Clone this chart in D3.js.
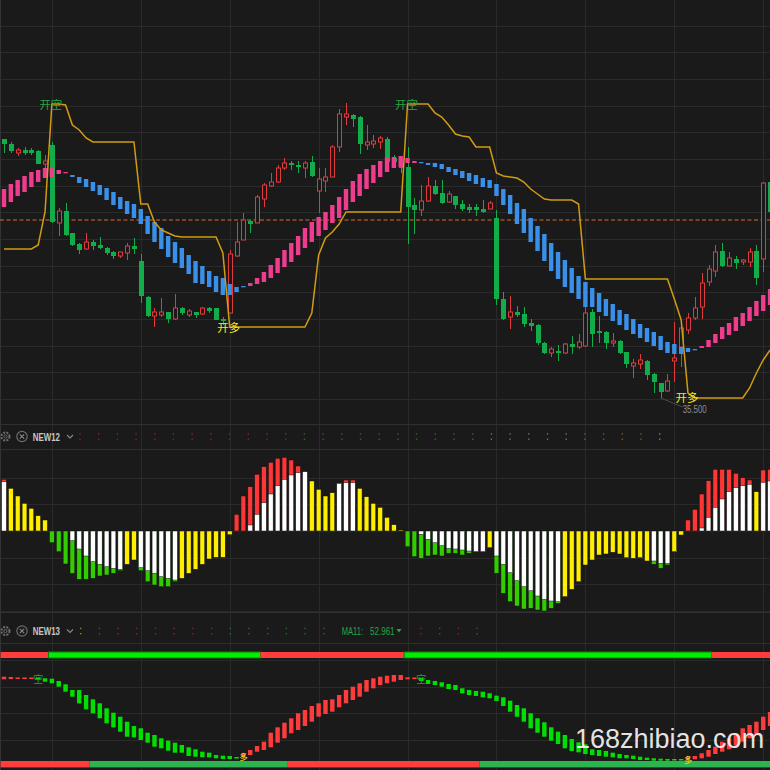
<!DOCTYPE html>
<html><head><meta charset="utf-8">
<script src="https://cdn.jsdelivr.net/npm/d3@7/dist/d3.min.js"></script>
<style>
html,body{margin:0;padding:0;background:#1a1a1a;}
svg{display:block;}
</style></head><body>
<svg id="chart" width="770" height="770"></svg>
<script>
// ---------------- DATA ----------------
const openP = [61.4,60.9,60.0,60.3,60.3,60.2,58.9,60.8,53.0,54.2,
 52.0,50.9,50.4,51.1,50.8,50.5,50.1,49.7,50.0,50.7,
 49.2,45.6,43.7,43.8,44.1,43.4,44.5,43.8,44.1,43.9,
 44.5,44.5,43.4,44.0,49.7,51.3,53.2,53.0,55.4,56.7,
 57.1,58.5,59.0,58.8,58.5,59.1,56.2,57.2,57.6,60.6,
 63.6,63.8,63.6,60.8,60.9,61.1,61.4,59.5,58.9,58.6,
 54.8,54.3,55.2,56.7,56.0,55.1,55.7,54.9,54.6,54.6,
 54.4,54.4,53.5,45.4,43.6,44.1,43.9,43.0,42.8,41.0,
 40.0,40.2,40.0,40.9,40.6,40.7,44.1,42.2,42.1,41.0,
 41.2,40.1,38.7,38.9,39.2,37.9,37.0,36.2,39.2,40.6,
 42.3,43.5,44.6,47.1,48.2,50.2,48.7,49.4,49.1,49.1,
 50.2,49.4,57.1];
const highP = [61.4,61.1,60.5,60.6,60.5,60.3,59.8,61.1,54.5,55.0,
 52.0,51.0,52.0,51.3,51.6,50.6,50.2,50.1,51.0,51.5,
 49.9,45.7,44.5,45.5,44.1,45.9,44.6,44.4,44.1,44.6,
 44.6,44.5,43.6,50.3,53.1,54.0,53.3,55.8,57.0,58.0,
 58.8,59.5,59.2,59.2,59.2,59.7,58.5,58.5,60.8,64.4,
 65.0,63.9,63.7,62.8,61.8,61.7,61.6,59.8,59.7,60.6,
 55.5,56.8,57.6,57.3,57.3,56.2,55.7,55.3,54.9,54.9,
 55.3,55.2,54.3,46.1,45.7,44.7,44.6,43.4,42.9,41.1,
 40.6,40.8,41.0,41.7,41.9,45.0,44.4,43.7,42.2,42.0,
 41.3,40.1,39.4,39.9,39.3,38.0,37.0,37.9,43.1,43.1,
 44.0,45.6,48.0,48.8,50.8,51.0,50.1,49.7,49.4,50.5,
 50.8,57.1,57.3];
const lowP = [60.0,60.0,59.7,59.8,59.8,58.9,58.5,53.0,51.7,51.7,
 50.7,49.9,50.3,50.3,50.4,49.8,49.4,49.5,49.3,49.9,
 45.0,43.6,42.6,43.6,43.0,43.3,43.8,43.6,43.5,43.8,
 44.0,43.3,42.8,44.0,49.6,51.3,52.0,53.0,54.6,56.6,
 57.0,58.3,58.3,58.0,57.5,57.6,54.0,56.1,57.6,60.1,
 62.8,62.6,59.9,60.3,60.5,60.4,59.0,58.8,58.0,50.9,
 51.9,53.7,55.1,55.8,54.9,55.0,54.4,54.2,54.0,53.7,
 54.0,54.4,44.8,43.3,42.4,43.6,42.6,42.2,40.8,39.9,
 39.6,39.2,39.9,39.9,40.4,40.6,40.6,41.0,40.4,40.6,
 39.9,38.5,37.5,38.4,37.3,36.0,35.5,36.1,37.1,38.6,
 41.9,43.3,43.4,46.7,47.6,48.6,48.7,48.4,48.8,48.6,
 46.8,48.1,53.9];
const closeP = [60.9,60.2,60.3,60.0,60.0,58.9,59.2,53.1,54.2,51.8,
 50.8,50.3,51.1,50.7,50.5,50.0,49.7,50.1,50.7,50.4,
 45.7,43.7,44.1,44.1,43.4,44.5,44.0,44.2,43.8,44.5,
 44.2,43.3,43.2,49.9,51.1,53.3,52.9,55.6,56.8,57.1,
 58.5,59.0,58.8,58.6,59.0,57.7,57.4,57.6,60.6,63.9,
 63.9,63.4,60.9,61.1,61.2,61.5,59.1,59.1,58.5,54.6,
 54.3,55.2,56.7,55.9,55.0,55.9,54.8,54.4,54.3,54.3,
 54.1,55.0,45.4,43.4,44.1,43.8,42.9,42.7,41.0,40.0,
 40.4,40.0,40.9,40.6,41.1,44.0,41.9,42.0,41.0,41.2,
 40.0,38.9,39.0,39.3,37.8,37.1,36.1,37.2,39.5,42.5,
 43.5,44.5,47.0,48.4,50.1,48.7,49.5,49.0,49.3,50.1,
 47.5,57.0,54.1];
// fast / slow averages of the ribbon
const fastMA = [56.4,56.9,57.3,57.7,58.1,58.3,58.5,58.5,58.3,58.1,
 57.6,57.0,56.6,56.2,55.8,55.3,54.8,54.4,53.9,53.5,
 52.9,51.9,51.1,50.4,49.6,49.0,48.5,47.9,47.0,46.9,
 46.6,46.1,45.8,45.8,46.1,46.6,47.0,47.5,48.1,48.8,
 49.5,50.3,51.0,51.7,52.5,53.1,53.6,54.1,54.8,55.6,
 56.4,57.2,57.9,58.4,58.8,59.2,59.5,59.6,59.7,59.5,
 59.2,59.0,58.8,58.6,58.4,58.1,57.8,57.5,57.2,56.9,
 56.6,56.5,55.7,54.8,53.9,52.9,52.0,51.1,50.2,49.2,
 48.2,47.4,46.6,46.0,45.4,44.6,44.6,44.1,43.7,43.2,
 42.8,42.3,41.9,41.5,41.1,40.7,40.3,40.0,39.9,39.9,
 40.1,40.3,40.7,41.3,41.9,42.6,43.0,43.6,44.0,44.6,
 45.2,45.8,46.4];
const slowMA = [54.6,55.1,55.7,56.1,56.6,57.1,57.5,57.6,57.9,58.0,
 57.8,57.6,57.4,57.1,56.8,56.5,56.1,55.6,55.2,54.9,
 54.4,53.7,53.1,52.5,51.7,51.1,50.5,49.8,49.2,48.7,
 48.2,47.7,47.5,46.9,46.6,46.7,46.7,46.9,47.1,47.5,
 48.0,48.6,49.1,49.8,50.5,51.1,51.7,52.3,53.0,53.5,
 54.3,55.1,55.7,56.4,57.0,57.6,58.1,58.5,58.6,59.0,
 59.0,59.1,59.0,59.0,58.9,58.6,58.4,58.2,58.0,57.8,
 57.5,57.3,56.9,56.4,55.8,55.0,54.4,53.5,52.7,51.9,
 51.0,50.1,49.3,48.5,47.7,47.1,46.5,46.0,45.4,44.9,
 44.3,43.9,43.4,42.9,42.5,42.1,41.7,41.1,40.9,40.6,
 40.5,40.4,40.5,40.6,41.0,41.4,41.8,42.2,42.7,43.2,
 43.7,44.2,44.8];
// trailing stop line
const stopLine = [50.4,50.4,50.4,50.4,50.4,50.8,54.1,64.9,64.9,64.8,
 62.8,62.3,61.5,61.1,61.1,61.1,61.1,61.1,61.1,61.1,
 54.9,54.9,53.1,52.3,52.0,51.7,51.6,51.6,51.6,51.6,
 51.6,51.6,50.0,42.6,42.6,42.6,42.6,42.6,42.6,42.6,
 42.6,42.6,42.6,42.6,42.6,44.0,49.8,51.5,52.1,52.9,
 54.1,54.1,54.1,54.1,54.1,54.1,54.1,54.1,54.1,64.9,
 64.9,64.9,64.9,64.0,63.6,62.8,61.9,61.7,61.6,60.6,
 60.6,60.6,58.0,57.7,57.6,57.5,57.1,56.4,55.9,55.4,
 55.3,55.3,55.3,55.3,54.9,47.4,47.4,47.4,47.4,47.4,
 47.4,47.4,47.4,47.4,47.4,47.4,47.4,47.4,45.4,43.3,
 36.0,35.5,35.5,35.5,35.5,35.5,35.5,35.5,35.5,36.5,
 38.0,39.3,40.3];
const lastPrice = 53.3;
const lowMark = {i: 96, label: "35.500"};
const signalIdx = [7, 33, 59, 100];
const signalText = ["开空", "开多", "开空", "开多"];
const signalPrice = [64.9, 42.6, 64.9, 35.6];

// NEW12 histogram
const histColor = ["r","y","y","y","y","y","y","g","g","g",
 "g","g","g","g","g","g","g","g","y","y",
 "g","g","g","g","g","g","y","y","y","y",
 "y","y","y","y","r","r","r","r","r","r",
 "r","r","r","r","w","y","y","y","y","w",
 "r","r","y","y","y","y","y","y","y","g",
 "g","g","g","g","g","g","g","g","g","w",
 "w","y","g","g","g","g","g","g","g","g",
 "g","g","y","y","y","y","y","y","y","y",
 "y","y","y","y","y","g","g","g","y","y",
 "r","r","r","r","r","r","r","r","r","r",
 "y","r","r"];
const histValue = [51.7,42.7,35.0,27.7,22.7,15.3,11.0,-11.7,-20.7,-33.0,
 -42.3,-48.3,-48.3,-47.3,-45.0,-44.0,-42.3,-39.7,-33.3,-29.0,
 -39.7,-50.7,-54.0,-55.7,-55.7,-50.7,-47.3,-42.3,-38.3,-33.3,
 -28.0,-26.3,-26.3,-3.7,16.7,35.0,44.3,56.7,64.3,68.7,
 72.7,73.7,71.0,65.0,59.3,50.0,41.7,35.0,38.3,47.7,
 51.0,51.0,42.7,34.3,27.7,23.7,13.7,6.3,1.0,-15.7,
 -25.7,-27.3,-25.0,-24.0,-25.0,-22.3,-22.3,-24.0,-22.3,-20.7,
 -20.7,-16.7,-42.3,-62.3,-70.7,-75.0,-78.0,-77.3,-79.0,-80.0,
 -77.3,-72.3,-65.7,-58.3,-50.7,-34.0,-29.0,-24.0,-23.0,-21.3,
 -23.0,-26.7,-27.3,-26.7,-30.0,-33.3,-37.3,-34.0,-20.7,-4.0,
 11.0,21.7,37.0,50.3,61.7,61.7,61.7,57.7,53.3,51.0,
 39.3,61.0,61.7];
const histWhite = [49.3,0,0,0,0,0,0,0,0,0,
 -9.7,-18.0,-25.0,-30.7,-33.3,-35.7,-37.3,-38.3,0,0,
 -36.7,-39.7,-42.3,-45.7,-47.3,-49.0,0,0,0,0,
 0,0,0,0,0,0,6.0,16.7,28.3,37.0,
 45.3,51.7,56.0,58.3,0,0,0,0,0,0,
 48.3,48.3,0,0,0,0,0,0,0,0,
 0,-3.3,-8.3,-11.7,-14.7,-17.3,-18.0,-19.0,-20.0,0,
 0,0,-25.0,-33.3,-41.7,-49.7,-55.7,-59.7,-65.0,-68.3,
 -70.0,-70.7,0,0,0,0,0,0,0,0,
 0,0,0,0,0,-30.0,-32.3,-32.3,0,0,
 0,0,3.0,13.7,23.7,32.0,39.3,43.3,45.3,46.7,
 0,48.7,50.0];

// NEW13 oscillator sticks
const stickHigh = [85.3,85.0,84.5,84.5,84.5,84.5,83.7,83.3,81.0,77.7,
 72.0,72.0,67.0,62.7,58.7,53.7,49.3,45.3,40.3,36.0,
 33.7,29.3,27.0,23.7,21.3,19.3,17.0,14.7,12.7,10.3,
 9.3,7.0,6.3,6.0,5.0,8.7,12.0,16.0,20.3,29.3,
 34.7,39.3,43.7,48.7,52.0,56.0,58.7,62.0,62.7,67.0,
 72.0,75.3,78.7,82.0,83.7,85.3,86.3,87.0,87.0,84.7,
 84.5,84.0,82.0,81.0,79.7,78.0,77.0,73.7,72.0,71.0,
 70.3,68.7,66.3,64.7,61.3,57.0,53.7,48.7,43.7,39.7,
 34.7,30.3,27.0,23.0,19.7,17.7,12.7,12.0,11.0,9.3,
 8.0,7.0,6.3,5.3,4.3,3.7,3.3,3.0,3.0,3.0,
 5.3,6.0,8.7,12.0,15.3,20.3,23.7,28.7,33.7,37.0,
 40.3,45.3,50.0];
const stickLow = [82.7,83.0,83.0,83.0,83.0,82.5,80.3,78.7,75.3,70.3,
 65.3,58.7,52.7,48.7,43.7,38.7,34.7,30.3,25.3,24.7,
 22.0,19.3,15.3,13.7,11.3,9.3,9.3,6.0,5.3,4.7,
 4.7,3.7,3.0,3.0,3.5,5.3,7.0,10.3,12.0,14.7,
 19.3,23.7,28.7,32.0,36.0,40.3,45.3,48.0,50.3,54.7,
 58.7,62.0,65.3,70.3,73.7,77.0,78.7,80.3,82.0,82.7,
 83.0,81.0,78.0,77.0,75.3,73.0,72.0,68.7,67.0,66.0,
 64.7,63.7,61.0,56.0,50.3,45.3,40.3,33.7,29.3,25.3,
 21.3,18.0,13.7,11.0,9.7,8.0,7.0,6.0,5.3,4.7,
 3.7,3.7,3.0,2.0,2.0,1.3,1.3,1.3,1.5,1.5,
 2.7,2.7,3.7,5.3,8.0,10.3,12.7,16.3,20.3,23.7,
 27.0,32.0,36.0];
const stickRuns = [[0,4,"r"],[5,34,"g"],[35,60,"r"],[61,99,"g"],[100,112,"r"]];
const topStripRuns = [[0,6,"r"],[7,37,"g"],[38,58,"r"],[59,103,"g"],[104,112,"r"]];
const bottomStripRuns = [[0,12,"r"],[13,41,"g"],[42,69,"r"],[70,112,"g"]];
const topStripLevel = [104, 110];
const bottomStripLevel = [-5.3, 1];
const subSignalIdx = [5, 35, 61, 100];
const subSignalText = ["空", "多", "空", "多"];
const subSignalValue = [83.5, 6, 83.5, 3];
const ma11Value = "52.961";

// header placeholder value markers
const new12Marks = ["#8a2424","#8a2424","#8a2424","#8a2424","#8a2424","#8a2424","#8a2424","#8a2424","#8a2424","#8a2424","#8a2424","#8a2424",
 "#226e22","#226e22","#226e22","#226e22","#226e22","#226e22","#226e22","#226e22","#226e22","#226e22",
 "#70737c","#70737c","#70737c","#70737c","#70737c","#8a5020","#8a5020","#8a5020","#8a5020","#8f8a20"];
const new13MarksA = ["#8f8a20","#226e22","#8a2424","#8a2424","#8a2424","#8a2424","#8a2424","#8a2424",
 "#226e22","#226e22","#226e22","#226e22","#226e22","#226e22"];
const new13MarksB = ["#8a2424","#226e22","#8a2424","#226e22"];

// ---------------- DRAW ----------------
const N = closeP.length;
const svg = d3.select("#chart");
const BG = "#1a1a1a", GRID = "#2a2a2a";
const RED = "#e03a3c", GREEN = "#12ad4a", PINK = "#ee3d8e", BLUE = "#3a8fe9";

svg.append("rect").attr("width", 770).attr("height", 770).attr("fill", BG);

const x = d3.scaleBand().domain(d3.range(N)).range([0.58, 0.58 + 6.84 * N]);
const cx = i => x(i) + x.bandwidth() / 2;
const yP = d3.scaleLinear().domain([35.5, 65.5]).range([398, 98]);
const yH = d3.scaleLinear().domain([-100, 100]).range([631, 431]);
const yS = d3.scaleLinear().domain([0, 100]).range([762, 662]);

const defs = svg.append("defs");
function clip(id, y0, y1) {
  defs.append("clipPath").attr("id", id).append("rect")
    .attr("x", 0).attr("y", y0).attr("width", 770).attr("height", y1 - y0);
}
clip("cTop", 0, 424); clip("cMid", 449, 612); clip("cBot", 643, 770);

// condensed UI text helper (narrow UI font look)
function condText(g, tx, ty, str, size, sx, fill, bold) {
  return g.append("text")
    .attr("transform", `translate(${tx},${ty}) scale(${sx},1)`)
    .attr("font-family", "Liberation Sans").attr("font-size", size)
    .attr("font-weight", bold ? "bold" : "normal")
    .attr("fill", fill).text(str);
}

// grid
const grid = svg.append("g").attr("stroke", GRID).attr("stroke-width", 1);
d3.range(15).forEach(k => {
  const yy = Math.round(25.5 + 26.67 * k) + 0.5;
  grid.append("line").attr("x1", 0).attr("x2", 770).attr("y1", yy).attr("y2", yy);
});
d3.range(-2, 4).forEach(k => {
  const yy = Math.round(531 + 26.67 * k) + 0.5;
  grid.append("line").attr("x1", 0).attr("x2", 770).attr("y1", yy).attr("y2", yy);
});
d3.range(-1, 4).forEach(k => {
  const yy = Math.round(686.7 + 26.67 * k) + 0.5;
  grid.append("line").attr("x1", 0).attr("x2", 770).attr("y1", yy).attr("y2", yy);
});
d3.range(7, N, 13).forEach(i => {
  const xx = Math.round(cx(i)) + 0.5;
  grid.append("line").attr("x1", xx).attr("x2", xx).attr("y1", 0).attr("y2", 770);
});
[424, 449, 612, 643].forEach(yy => {
  svg.append("line").attr("x1", 0).attr("x2", 770).attr("y1", yy + 0.5).attr("y2", yy + 0.5)
    .attr("stroke", "#303030");
});
svg.append("line").attr("x1", 0.5).attr("x2", 0.5).attr("y1", 0).attr("y2", 770).attr("stroke", "#333");

// ---- top panel ----
const gTop = svg.append("g").attr("clip-path", "url(#cTop)");
gTop.append("line").attr("x1", 0).attr("x2", 770)
  .attr("y1", yP(lastPrice)).attr("y2", yP(lastPrice))
  .attr("stroke", "#e0682a").attr("stroke-width", 1.2).attr("stroke-dasharray", "4,2.5");

d3.range(N).forEach(i => {
  const up = closeP[i] >= openP[i];
  const col = up ? RED : GREEN;
  const xc = Math.round(cx(i)) + 0.5;
  const yT = yP(Math.max(openP[i], closeP[i]));
  const yB = yP(Math.min(openP[i], closeP[i]));
  gTop.append("line").attr("x1", xc).attr("x2", xc).attr("y1", yP(highP[i])).attr("y2", yT)
    .attr("stroke", col).attr("stroke-width", 1);
  gTop.append("line").attr("x1", xc).attr("x2", xc).attr("y1", yB).attr("y2", yP(lowP[i]))
    .attr("stroke", col).attr("stroke-width", 1);
  if (up) {
    gTop.append("rect").attr("x", xc - 2).attr("y", yT).attr("width", 4)
      .attr("height", Math.max(yB - yT, 1)).attr("fill", BG).attr("stroke", col).attr("stroke-width", 1);
  } else {
    gTop.append("rect").attr("x", xc - 2.5).attr("y", yT).attr("width", 5)
      .attr("height", Math.max(yB - yT, 1.5)).attr("fill", col);
  }
});

d3.range(N).forEach(i => {
  const hi = Math.max(fastMA[i], slowMA[i]), lo = Math.min(fastMA[i], slowMA[i]);
  gTop.append("rect").attr("x", cx(i) - 2.2).attr("width", 4.4)
    .attr("y", yP(hi)).attr("height", Math.max(yP(lo) - yP(hi), 1.3))
    .attr("fill", fastMA[i] > slowMA[i] ? PINK : BLUE);
});

gTop.append("path").datum(d3.range(N))
  .attr("d", d3.line().x(i => cx(i)).y(i => yP(stopLine[i])))
  .attr("fill", "none").attr("stroke", "#d29c12").attr("stroke-width", 1.5);

signalIdx.forEach((si, k) => {
  const isShort = signalText[k] === "开空";
  gTop.append("text").attr("x", cx(si) - 1).attr("y", yP(signalPrice[k]))
    .attr("text-anchor", "middle").attr("dominant-baseline", "central")
    .attr("font-family", "Noto Sans CJK SC").attr("font-size", 11.5)
    .attr("fill", isShort ? "#27a545" : "#f6e81e").text(signalText[k]);
});

// low marker
const lx = cx(lowMark.i), ly = yP(lowP[lowMark.i]);
gTop.append("line").attr("x1", lx).attr("y1", ly).attr("x2", lx + 22).attr("y2", ly + 9)
  .attr("stroke", "#4a4a4a").attr("stroke-width", 1);
condText(gTop, lx + 22, ly + 15, lowMark.label, 10.5, 0.75, "#8e8e8e", false);

// ---- headers ----
function header(cy, name) {
  const g = svg.append("g");
  g.append("circle").attr("cx", 5.5).attr("cy", cy).attr("r", 4).attr("fill", "none")
    .attr("stroke", "#6c6c6c").attr("stroke-width", 2).attr("stroke-dasharray", "2,1.2");
  g.append("circle").attr("cx", 5.5).attr("cy", cy).attr("r", 1.6).attr("fill", "none")
    .attr("stroke", "#6c6c6c").attr("stroke-width", 1);
  g.append("circle").attr("cx", 22).attr("cy", cy).attr("r", 5.2).attr("fill", "none")
    .attr("stroke", "#6c6c6c").attr("stroke-width", 1.2);
  g.append("path").attr("d", `M19.8,${cy - 2.2}L24.2,${cy + 2.2}M24.2,${cy - 2.2}L19.8,${cy + 2.2}`)
    .attr("stroke", "#8a8a8a").attr("stroke-width", 1.1);
  condText(g, 32.7, cy + 4, name, 11, 0.72, "#c6c6c6", true);
  g.append("path").attr("d", `M67,${cy - 1.5}L70,${cy + 1.5}L73,${cy - 1.5}`)
    .attr("fill", "none").attr("stroke", "#8a8a8a").attr("stroke-width", 1.1);
  return g;
}
function marks(g, x0, colors, cy) {
  colors.forEach((c, k) => {
    const xx = x0 + 18.7 * k;
    g.append("rect").attr("x", xx - 0.7).attr("y", cy - 3.3).attr("width", 1.4).attr("height", 1.4).attr("fill", c);
    g.append("rect").attr("x", xx - 0.7).attr("y", cy + 2).attr("width", 1.4).attr("height", 1.4).attr("fill", c);
  });
}
const h12 = header(436.5, "NEW12");
marks(h12, 80, new12Marks, 436.5);
const h13 = header(631, "NEW13");
marks(h13, 80.7, new13MarksA, 631);
condText(h13, 341.7, 635, "MA11:", 11.5, 0.66, "#22a74b", false);
condText(h13, 370, 635, ma11Value, 11.5, 0.70, "#22a74b", false);
h13.append("path").attr("d", "M396.5,629L401.5,629L399,632.5Z").attr("fill", "#22a74b");
marks(h13, 421, new13MarksB, 631);

// ---- middle panel ----
const gMid = svg.append("g").attr("clip-path", "url(#cMid)");
const HC = {y: "#ffee00", r: "#ff3636", g: "#33cc00", w: "#ffffff"};
d3.range(N).forEach(i => {
  const a = histValue[i], w = histWhite[i];
  const y0 = yH(0);
  gMid.append("rect").attr("x", cx(i) - 2.4).attr("width", 4.8)
    .attr("y", Math.min(yH(a), y0)).attr("height", Math.abs(yH(a) - y0))
    .attr("fill", HC[histColor[i]]).attr("stroke", "#111").attr("stroke-width", 0.5);
  if (w !== 0) {
    gMid.append("rect").attr("x", cx(i) - 2.4).attr("width", 4.8)
      .attr("y", Math.min(yH(w), y0)).attr("height", Math.abs(yH(w) - y0))
      .attr("fill", "#ffffff").attr("stroke", "#111").attr("stroke-width", 0.5);
  }
});

// ---- bottom panel ----
const gBot = svg.append("g").attr("clip-path", "url(#cBot)");
function strip(runs, level, colors, strokeG) {
  runs.forEach(([s, e, c]) => {
    gBot.append("rect").attr("x", x(s)).attr("width", x(e) + x.bandwidth() - x(s))
      .attr("y", yS(level[1])).attr("height", yS(level[0]) - yS(level[1]))
      .attr("fill", colors[c])
      .attr("stroke", c === "g" && strokeG ? strokeG : "none").attr("stroke-width", 1);
  });
}
strip(topStripRuns, topStripLevel, {r: "#ff3d3d", g: "#00ee00"}, "#137a13");
strip(bottomStripRuns, bottomStripLevel, {r: "#ff3d3d", g: "#2db350"}, null);

const stickColor = [];
stickRuns.forEach(([s, e, c]) => { for (let i = s; i <= e; i++) stickColor[i] = c; });
d3.range(N).forEach(i => {
  gBot.append("rect").attr("x", cx(i) - 2.2).attr("width", 4.4)
    .attr("y", yS(stickHigh[i])).attr("height", Math.max(yS(stickLow[i]) - yS(stickHigh[i]), 1.5))
    .attr("fill", stickColor[i] === "r" ? "#ff3b3b" : "#00e000");
});
subSignalIdx.forEach((si, k) => {
  const isShort = subSignalText[k] === "空";
  gBot.append("text").attr("x", cx(si)).attr("y", yS(subSignalValue[k]))
    .attr("text-anchor", "middle").attr("dominant-baseline", "central")
    .attr("font-family", "Noto Sans CJK SC").attr("font-size", isShort ? 10 : 8.5)
    .attr("fill", isShort ? "#21a040" : "#f2df1e").text(subSignalText[k]);
});

// watermark
svg.append("text").attr("x", 575).attr("y", 748)
  .attr("font-family", "Liberation Sans").attr("font-size", 27)
  .attr("fill", "#ffffff").attr("fill-opacity", 0.9).text("168zhibiao.com");
</script></body></html>
